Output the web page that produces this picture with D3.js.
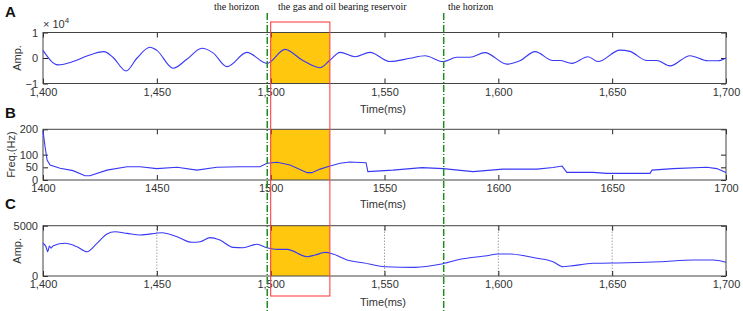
<!DOCTYPE html>
<html>
<head>
<script src="https://cdn.jsdelivr.net/npm/d3@7/dist/d3.min.js"></script>
<style>
    body{margin:0;background:white;font-family:"Liberation Sans",Arial,sans-serif;}
    .tick text{font-family:"Liberation Sans",Arial,sans-serif;font-size:11px;fill:#333;}
</style>
</head>
<body>
<div id="chart"></div>
<script>

// time axis
var timeTicks = [1400,1450,1500,1550,1600,1650,1700]

// panel A: seismic trace, amplitude in units of 1e4
var ampTime = [1400,1406.6,1413.2,1419.3,1426.8,1430.7,1436.5,1441.3,1447,1450,1457.1,1463.2,1469.8,1474.7,1480.8,1489.6,1498.4,1506.3,1513.8,1521.7,1526.1,1530.5,1537.1,1543.6,1552.4,1561.2,1567.8,1575.7,1581.8,1587.5,1594.1,1603.8,1609.5,1616.1,1624,1627.1,1632.3,1639.4,1643.8,1653.4,1657.8,1665.3,1669.7,1675.4,1684.2,1692.1,1696.5,1700]
var ampValue = [0.3,-0.27,-0.14,0.08,0.25,0.03,-0.51,0,0.42,0.3,-0.4,-0.05,0.38,0.2,-0.34,0.22,-0.21,0.34,-0.08,-0.38,-0.08,0.22,0.05,0.22,-0.14,-0.01,0.09,-0.14,0.03,0.03,0.21,-0.24,-0.11,0.25,-0.1,-0.1,-0.21,0.05,-0.14,0.31,0.26,-0.1,-0.1,-0.31,0.09,-0.11,-0.11,0]

// panel B: instantaneous frequency (Hz)
var freqTime = [1400,1400.9,1401.8,1403.1,1407.5,1413.2,1418.4,1420.6,1428.1,1436.9,1442.6,1450,1458.9,1467.6,1476.4,1486.5,1495.3,1498.4,1502.8,1508.5,1516,1518.1,1521.7,1526.1,1530.5,1534.8,1541.9,1542.7,1553.7,1566.5,1575.7,1588.9,1602,1617,1624,1628,1630.1,1641.6,1647.7,1666.6,1667.5,1676.7,1691.6,1696,1700]
var freqValue = [194,131,79,59,46,37,17,17,39,52,52,45,50,39,50,52,52,66,70,59,29,29,43,55,66,71,68,33,39,49,45,33,43,43,49,55,30,30,26,26,39,45,50,45,30]

// panel C: instantaneous amplitude
var envTime = [1400,1401.3,1402.1,1402.8,1403.5,1404.5,1409.7,1414.9,1419.3,1423.7,1428.1,1431.6,1436.9,1442.6,1452.3,1458.9,1465.4,1469,1473.4,1477.7,1483.5,1487.8,1494,1498.4,1502.8,1507.2,1516,1519.5,1523.9,1527.4,1533.5,1540.5,1550.2,1563.4,1574.4,1583.2,1595,1599.8,1605.1,1617,1624,1628.4,1631.5,1641.6,1656.5,1671,1685.5,1694.3,1700]
var envValue = [3250,2910,2415,2980,2770,3010,3250,2910,2415,3250,4175,4400,4240,4075,4305,3905,3350,3410,3810,3570,2850,2815,3150,2815,2650,2650,1920,2085,2350,2185,1590,1320,925,860,1160,1660,2020,2185,2185,1760,1420,925,990,1260,1320,1420,1590,1590,1360]

// markers
var horizons = [1498.5,1576]
var reservoir = [1500,1526]

var width = 743, height = 311
var svg = d3.select("#chart").append("svg").attr("width",width).attr("height",height)

var x = d3.scaleLinear().domain([1400,1700]).range([43,726])

var panels = [
    {letter:"A", top:32.5, bottom:83.5, domain:[-1,1], yTicks:[-1,0,1], yFmt:d3.format("d"),
     xFmt:d3.format(","), label:"Amp.", labelX:17, t:ampTime, v:ampValue, curve:d3.curveMonotoneX, grid:false, timeY:113, letterY:17},
    {letter:"B", top:129.3, bottom:180, domain:[0,200], yTicks:[0,50,100,200], yFmt:d3.format("d"),
     xFmt:d3.format("d"), label:"Freq.(Hz)", labelX:11, t:freqTime, v:freqValue, curve:d3.curveLinear, grid:false, timeY:208, letterY:118},
    {letter:"C", top:225.7, bottom:276, domain:[0,5000], yTicks:[0,5000], yFmt:d3.format("d"),
     xFmt:d3.format(","), label:"Amp.", labelX:17, t:envTime, v:envValue, curve:d3.curveMonotoneX, grid:true, timeY:306, letterY:209}
]

panels.forEach(function(p){
    var y = d3.scaleLinear().domain(p.domain).range([p.bottom,p.top])
    var g = svg.append("g")

    if(p.grid){
        g.selectAll(".grid").data(timeTicks.slice(1,-1)).enter().append("line")
            .attr("x1",d=>x(d)).attr("x2",d=>x(d))
            .attr("y1",p.top).attr("y2",p.bottom)
            .attr("stroke","#555").attr("stroke-width",0.8).attr("stroke-dasharray","1,2")
    }

    // reservoir fill
    g.append("rect")
        .attr("x",x(reservoir[0])).attr("y",p.top)
        .attr("width",x(reservoir[1])-x(reservoir[0])).attr("height",p.bottom-p.top)
        .attr("fill","#FFC80F")

    // axes
    var bottomAxis = d3.axisBottom(x).tickValues(timeTicks).tickFormat(p.xFmt).tickSizeInner(-5).tickSizeOuter(0).tickPadding(4.5)
    var topAxis = d3.axisTop(x).tickValues(timeTicks).tickFormat("").tickSizeInner(-5).tickSizeOuter(0)
    var leftAxis = d3.axisLeft(y).tickValues(p.yTicks).tickFormat(p.yFmt).tickSizeInner(-5).tickSizeOuter(0).tickPadding(5)
    var rightAxis = d3.axisRight(y).tickValues(p.yTicks).tickFormat("").tickSizeInner(-5).tickSizeOuter(0)

    var ax = g.append("g").attr("transform","translate(0,"+p.bottom+")").call(bottomAxis)
    var at = g.append("g").attr("transform","translate(0,"+p.top+")").call(topAxis)
    var al = g.append("g").attr("transform","translate(43,0)").call(leftAxis)
    var ar = g.append("g").attr("transform","translate(726,0)").call(rightAxis)
    ;[ax,at,al,ar].forEach(function(a){
        a.select(".domain").remove()
        a.selectAll(".tick line").attr("stroke","#222")
    })

    // frame
    g.append("rect")
        .attr("x",43).attr("y",p.top).attr("width",726-43).attr("height",p.bottom-p.top)
        .attr("fill","none").attr("stroke","#444").attr("stroke-width",1)

    // data
    var line = d3.line().x((d,i)=>x(p.t[i])).y(d=>y(d)).curve(p.curve)
    g.append("path").attr("d",line(p.v))
        .attr("fill","none").attr("stroke","#3838F5").attr("stroke-width",1.1)

    // labels
    g.append("text").text(p.letter).attr("x",5).attr("y",p.letterY)
        .attr("font-size",15).attr("font-weight","bold").attr("fill","#111")
    g.append("text").text(p.label)
        .attr("transform","translate("+p.labelX+","+((p.top+p.bottom)/2)+") rotate(-90)")
        .attr("text-anchor","middle").attr("dy","0.35em").attr("font-size",11).attr("fill","#333")
    g.append("text").text("Time(ms)").attr("x",360).attr("y",p.timeY)
        .attr("font-size",11).attr("fill","#333")
})

// exponent label for panel A
var expo = svg.append("text").attr("x",43).attr("y",28).attr("font-size",11).attr("fill","#333")
expo.append("tspan").text("× 10")
expo.append("tspan").text("4").attr("font-size",8).attr("dy",-5)

// reservoir outline
svg.append("rect")
    .attr("x",x(reservoir[0])).attr("y",22)
    .attr("width",x(reservoir[1])-x(reservoir[0])).attr("height",296-22)
    .attr("fill","none").attr("stroke","#FF4444").attr("stroke-width",1.1)

// horizon markers
svg.selectAll(".horizon").data(horizons).enter().append("line")
    .attr("x1",d=>x(d)).attr("x2",d=>x(d)).attr("y1",13).attr("y2",height)
    .attr("stroke","#1E8C1E").attr("stroke-width",1.5).attr("stroke-dasharray","7,2,1,2")

var topLabels = [
    {text:"the horizon", x:214},
    {text:"the gas and oil bearing reservoir", x:278},
    {text:"the horizon", x:448}
]
svg.selectAll(".toplabel").data(topLabels).enter().append("text")
    .text(d=>d.text).attr("x",d=>d.x).attr("y",10)
    .attr("font-family","'Liberation Serif','Times New Roman',serif").attr("font-size",10).attr("fill","#111")

</script>
</body>
</html>
